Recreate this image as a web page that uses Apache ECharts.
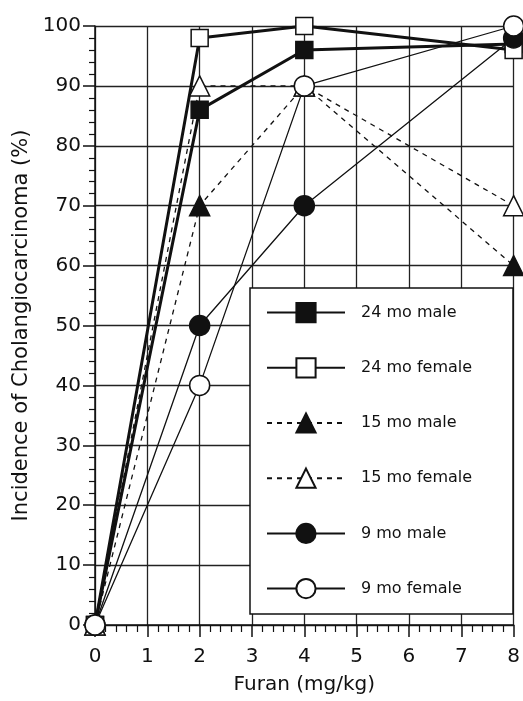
<!DOCTYPE html>
<html>
<head>
<meta charset="utf-8">
<script src="https://cdn.jsdelivr.net/npm/echarts@6/dist/echarts.min.js"></script>
<style>html,body{margin:0;padding:0;background:#fff;}#c{width:523px;height:701px;}</style>
</head>
<body>
<div id="c"></div>
<script>
var doses = [0, 2, 4, 8];
var male24 = [0, 86, 96, 97];
var female24 = [0, 98, 100, 96];
var male15 = [0, 70, 90, 60];
var female15 = [0, 90, 90, 70];
var male9 = [0, 50, 70, 98];
var female9 = [0, 40, 90, 100];
var seriesNames = ['24 mo male', '24 mo female', '15 mo male', '15 mo female', '9 mo male', '9 mo female'];
var xTicks = [0, 1, 2, 3, 4, 5, 6, 7, 8];
var yTicks = [0, 10, 20, 30, 40, 50, 60, 70, 80, 90, 100];

function pairs(vals) { return doses.map(function (d, i) { return [d, vals[i]]; }); }

var FONT = 'DejaVu Sans';
var INK = '#111';

function mk(name, vals, symbol, size, filled, width, dashed) {
  return {
    name: name, type: 'line', data: pairs(vals),
    symbol: symbol, symbolSize: size, showAllSymbol: true,
    lineStyle: { color: INK, width: width, type: dashed ? [5, 5] : 'solid' },
    itemStyle: { color: filled ? INK : '#fff', borderColor: INK, borderWidth: 1.5 },
    emphasis: { disabled: true },
    animation: false
  };
}

var chart = echarts.init(document.getElementById('c'), null, { renderer: 'canvas' });
chart.setOption({
  backgroundColor: '#fff',
  animation: false,
  grid: { left: 95, right: 6, top: 26, bottom: 76 },
  xAxis: {
    type: 'value', min: 0, max: 8, interval: 1,
    name: 'Furan (mg/kg)', nameLocation: 'middle', nameGap: 50,
    nameTextStyle: { fontFamily: FONT, fontSize: 20, color: INK },
    axisLine: { show: true, onZero: false, lineStyle: { color: INK, width: 1.5 } },
    axisTick: { show: true, inside: false, length: 12, lineStyle: { color: INK, width: 1.5 } },
    minorTick: { show: true, splitNumber: 5, length: 7, lineStyle: { color: INK, width: 1.2 } },
    splitLine: { show: true, lineStyle: { color: '#222', width: 1.3 } },
    axisLabel: { fontFamily: FONT, fontSize: 20, color: INK, margin: 22,
      formatter: function (v) { return xTicks.indexOf(v) >= 0 ? String(v) : ''; } }
  },
  yAxis: {
    type: 'value', min: 0, max: 100, interval: 10,
    name: 'Incidence of Cholangiocarcinoma (%)', nameLocation: 'middle', nameGap: 62,
    nameTextStyle: { fontFamily: FONT, fontSize: 21, color: INK },
    axisLine: { show: true, lineStyle: { color: INK, width: 1.5 } },
    axisTick: { show: true, inside: false, length: 12, lineStyle: { color: INK, width: 1.5 } },
    minorTick: { show: true, splitNumber: 5, length: 6, lineStyle: { color: INK, width: 1.2 } },
    splitLine: { show: true, lineStyle: { color: '#222', width: 1.3 } },
    axisLabel: { fontFamily: FONT, fontSize: 20, color: INK, margin: 14,
      formatter: function (v) { return yTicks.indexOf(v) >= 0 ? String(v) : ''; } }
  },
  graphic: [{
    type: 'rect', z: 1, silent: true,
    shape: { x: 250, y: 288, width: 263, height: 326 },
    style: { fill: '#fff', stroke: INK, lineWidth: 1.5 }
  }],
  legend: {
    orient: 'vertical', left: 266, top: 302,
    itemWidth: 78, itemHeight: 24, itemGap: 34,
    padding: 0,
    textStyle: { fontFamily: FONT, fontSize: 16, color: INK, padding: [0, 0, 0, 11] },
    data: seriesNames,
    selectedMode: false
  },
  series: [
    mk(seriesNames[0], male24, 'rect', 17, true, 3, false),
    mk(seriesNames[1], female24, 'rect', 17, false, 3, false),
    mk(seriesNames[2], male15, 'triangle', 20, true, 1.3, true),
    mk(seriesNames[3], female15, 'triangle', 20, false, 1.3, true),
    mk(seriesNames[4], male9, 'circle', 20, true, 1.3, false),
    mk(seriesNames[5], female9, 'circle', 20, false, 1.3, false)
  ]
});
</script>
</body>
</html>
